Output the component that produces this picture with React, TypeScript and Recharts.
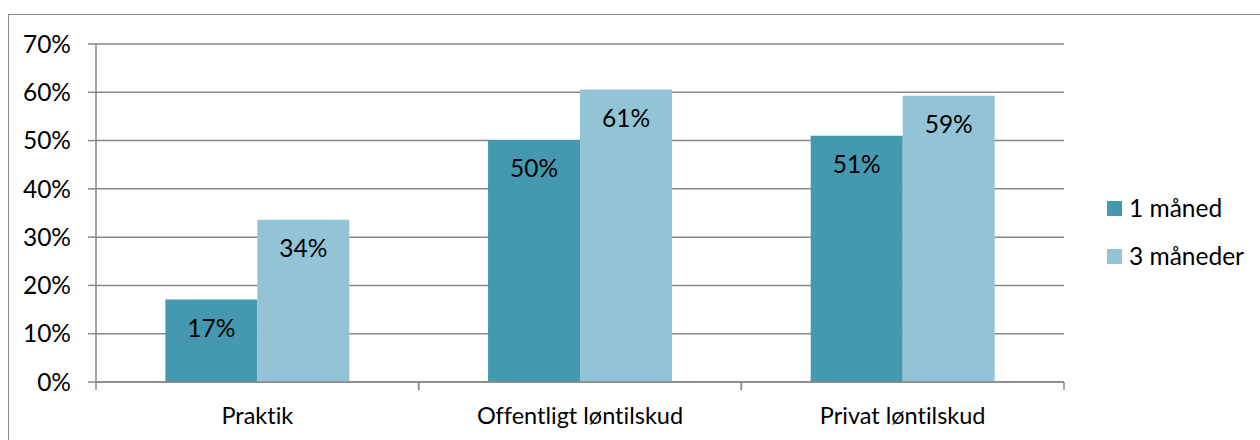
import { BarChart, Bar, XAxis, YAxis, CartesianGrid, LabelList } from "recharts";

const categories = ["Praktik", "Offentligt løntilskud", "Privat løntilskud"];
const oneMonth = [17.1, 50.1, 51.0];
const threeMonths = [33.6, 60.6, 59.3];
const seriesNames = ["1 måned", "3 måneder"];
const seriesColors = ["#4499b0", "#93c4d6"];
const yTicks = [0, 10, 20, 30, 40, 50, 60, 70];

const data = categories.map((name, i) => ({
  name,
  m1: oneMonth[i],
  m3: threeMonths[i],
}));

const FONT = "Lato, 'Open Sans', sans-serif";
const SIZE = 24.5;
const GRID = "#898989";
const X_TICK_SIZE = 6;
const X_TICK_MARGIN = 19;
const pct = (v: unknown) => `${Math.round(Number(v))}%`;

// category label plus the small tick marks at the category boundaries
function CategoryTick(props: any) {
  const { x, y, payload } = props;
  const half = payload?.offset ?? 0;
  const axisY = y - X_TICK_SIZE - X_TICK_MARGIN;
  return (
    <g>
      <line x1={x - half} x2={x - half} y1={axisY} y2={axisY + 8} stroke={GRID} strokeWidth={1.5} />
      <line x1={x + half} x2={x + half} y1={axisY} y2={axisY + 8} stroke={GRID} strokeWidth={1.5} />
      <text x={x} y={y} dy="0.71em" textAnchor="middle" fontSize={23.5} fontFamily={FONT} fill="#000">
        {payload.value}
      </text>
    </g>
  );
}

export default function App() {
  return (
    <div
      style={{
        position: "absolute",
        left: 0,
        top: 0,
        width: 1260,
        height: 440,
        overflow: "hidden",
        background: "#fff",
        fontFamily: FONT,
        fontVariantLigatures: "none",
      }}
    >
      <div
        style={{
          position: "absolute",
          left: 8,
          top: 14,
          width: 1280,
          height: 460,
          border: "1.5px solid #8a8a8a",
          boxSizing: "border-box",
        }}
      />
      <div style={{ position: "absolute", left: 0, top: 0 }}>
        <BarChart
          width={1260}
          height={440}
          data={data}
          margin={{ top: 44, right: 196, bottom: 0, left: 0 }}
          barCategoryGap="21.5%"
          barGap={0}
        >
          <CartesianGrid vertical={false} stroke={GRID} strokeWidth={1.5} />
          <XAxis
            dataKey="name"
            height={58}
            tickLine={false}
            tickSize={X_TICK_SIZE}
            tickMargin={X_TICK_MARGIN}
            axisLine={{ stroke: GRID, strokeWidth: 1.5 }}
            tick={<CategoryTick />}
          />
          <YAxis
            width={96}
            domain={[0, 70]}
            ticks={yTicks}
            interval={0}
            tickFormatter={(v) => `${v}%`}
            tickSize={8}
            tickMargin={17}
            axisLine={{ stroke: GRID, strokeWidth: 1.5 }}
            tickLine={{ stroke: GRID, strokeWidth: 1.5 }}
            tick={{ fontSize: SIZE, fill: "#000", fontFamily: FONT }}
          />
          <Bar dataKey="m1" name={seriesNames[0]} fill={seriesColors[0]} isAnimationActive={false}>
            <LabelList
              dataKey="m1"
              position="insideTop"
              offset={20}
              formatter={pct}
              style={{ fontSize: SIZE, fill: "#000", fontFamily: FONT }}
            />
          </Bar>
          <Bar dataKey="m3" name={seriesNames[1]} fill={seriesColors[1]} isAnimationActive={false}>
            <LabelList
              dataKey="m3"
              position="insideTop"
              offset={20}
              formatter={pct}
              style={{ fontSize: SIZE, fill: "#000", fontFamily: FONT }}
            />
          </Bar>
        </BarChart>
      </div>
      <div style={{ position: "absolute", left: 1107, top: 196, fontSize: SIZE, color: "#000", lineHeight: "24px" }}>
        {seriesNames.map((s, i) => (
          <div key={s} style={{ display: "flex", alignItems: "center", marginBottom: i === 0 ? 24 : 0 }}>
            <span style={{ width: 15, height: 15, background: seriesColors[i], marginRight: 7, display: "inline-block" }} />
            <span>{s}</span>
          </div>
        ))}
      </div>
    </div>
  );
}
